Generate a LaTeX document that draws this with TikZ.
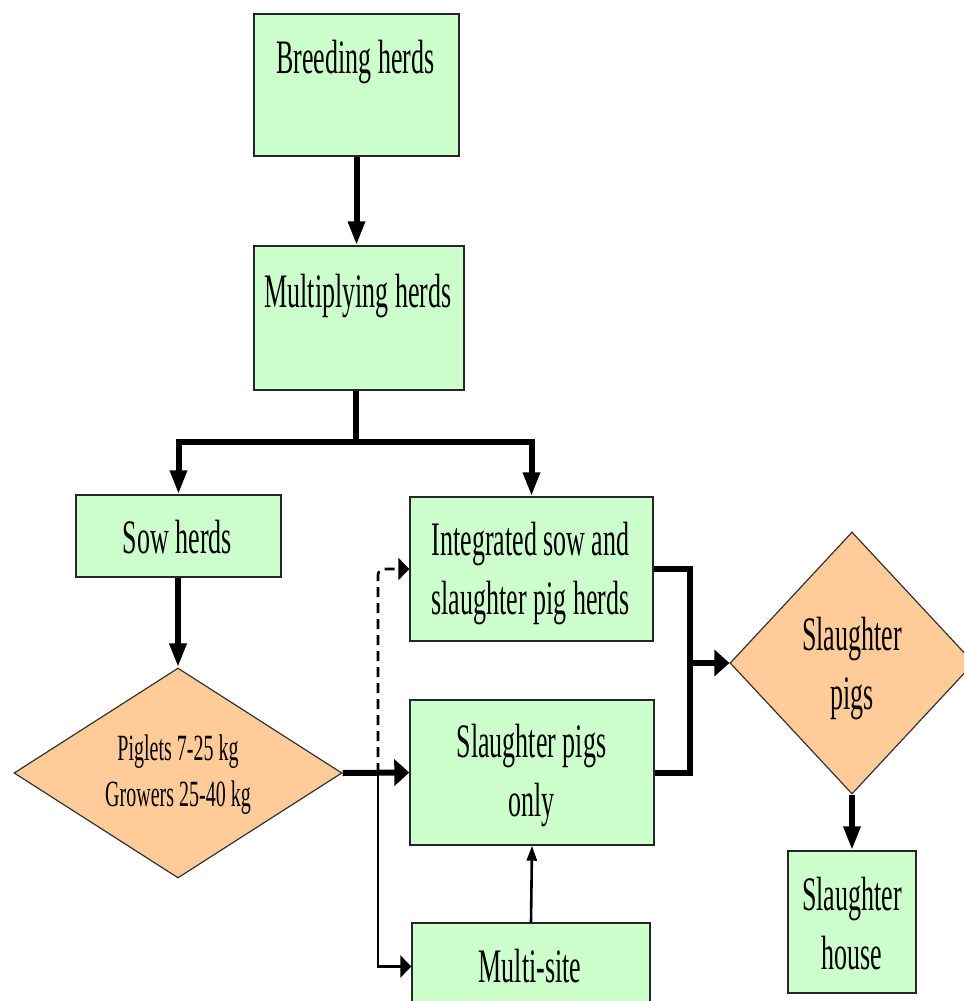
\documentclass[tikz,border=0pt]{standalone}
\usepackage{fontspec}
\setmainfont{Liberation Serif}
\usepackage{graphicx}
\usetikzlibrary{shapes.geometric,arrows.meta}
\definecolor{boxgreen}{HTML}{CCFFCC}
\definecolor{diaorange}{HTML}{FFCC99}
\newcommand\oneline[1]{\scalebox{1}[1.85]{#1}}
\newcommand\twoline[2]{\scalebox{1}[1.85]{\begin{tabular}[t]{@{}c@{}}#1\\#2\end{tabular}}}
\begin{document}
\begin{tikzpicture}[x=1pt,y=-1pt,
  box/.style={draw=black!85,line width=1.4pt,fill=boxgreen,inner sep=0pt},
  dia/.style={diamond,draw=black!80,line width=1.2pt,fill=diaorange,inner sep=0pt},
  txt/.style={anchor=base,inner sep=0pt,font=\fontsize{26}{32.4}\selectfont},
  stxt/.style={anchor=base,inner sep=0pt,font=\fontsize{20}{25.4}\selectfont},
  thickln/.style={line width=6pt,line join=miter},
  thinln/.style={line width=2.6pt,line join=miter},
  vtip/.style={-{Triangle[length=24pt,width=16pt]}},
  htip/.style={-{Triangle[length=15pt,width=26pt]}},
  vtipthin/.style={-{Triangle[length=15pt,width=10pt]}},
  htipthin/.style={-{Triangle[length=11pt,width=22pt]}}]
\useasboundingbox (0,0) rectangle (964,1001);
\fill[white] (0,0) rectangle (964,1001);
\clip (0,0) rectangle (964,1001);

% boxes
\node[box,minimum width=205pt,minimum height=142pt] (breed) at (356.5,85) {};
\node[box,minimum width=210pt,minimum height=144pt] (mult) at (359,318) {};
\node[box,minimum width=205pt,minimum height=82pt] (sow) at (178.5,536) {};
\node[box,minimum width=243pt,minimum height=144pt] (integ) at (531.5,569) {};
\node[box,minimum width=244pt,minimum height=145pt] (spo) at (532,772.5) {};
\node[box,minimum width=238pt,minimum height=87pt] (msite) at (531,966.5) {};
\node[box,minimum width=128pt,minimum height=142pt] (shouse) at (852,922) {};
\node[dia,minimum width=328pt,minimum height=210pt] (pig) at (178,773) {};
\node[dia,minimum width=244pt,minimum height=262pt] (sp) at (852,663) {};

% texts
\node[txt] (breedT) at (355.5,73) {\oneline{Breeding herds}};
\node[txt] (multT) at (358,307) {\oneline{Multiplying herds}};
\node[txt] (sowT) at (177.5,553) {\oneline{Sow herds}};
\node[txt] (integT) at (530.5,555) {\twoline{Integrated sow and}{slaughter pig herds}};
\node[txt] (spoT) at (531.5,757) {\twoline{Slaughter pigs}{only}};
\node[txt] (msiteT) at (530,982) {\oneline{Multi-site}};
\node[txt] (spT) at (852,650) {\twoline{Slaughter}{pigs}};
\node[txt] (shouseT) at (852,910) {\twoline{Slaughter}{house}};
\node[stxt] (pigT) at (178,760) {\twoline{Piglets 7-25 kg}{Growers 25-40 kg}};

% junctions
\coordinate (split) at (356,442);
\coordinate (j1) at (378,773);
\coordinate (j2) at (690,663);

% connectors
\draw[thickln,vtip] (breed.south) -- (breed.south |- mult.north);
\draw[thickln] (mult.south -| split) -- (split);
\draw[thickln,vtip] (split) -| (sow.north);
\draw[thickln,vtip] (split) -| (integ.north);
\draw[thickln,vtip] (sow.south -| pig.north) -- (pig.north);
\draw[thickln,htip] (pig.east) -- (spo.west);
\draw[thinln,htipthin] (j1) |- (msite.west);
\draw[line width=2.6pt,dash pattern=on 10pt off 6pt,rounded corners=6pt,htipthin] (j1) |- (integ.west);
\draw[thinln,vtipthin] (msite.north) -- (spo.south);
\draw[thickln] (integ.east) -| (j2) |- (spo.east);
\draw[thickln,htip] (j2) -- (sp.west);
\draw[thickln,vtip] (sp.south) -- (shouse.north);
\end{tikzpicture}
\end{document}
